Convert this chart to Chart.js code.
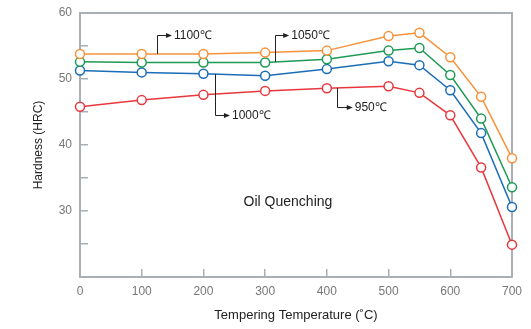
<!DOCTYPE html>
<html>
<head>
<meta charset="utf-8">
<script src="https://cdn.jsdelivr.net/npm/chart.js@4.4.0/dist/chart.umd.min.js"></script>
<style>
  body { margin: 0; background: #fff; }
  #wrap { width: 531px; height: 329px; }
</style>
</head>
<body>
<div id="wrap"><canvas id="hardnessChart" width="531" height="329"></canvas></div>
<script>
// tempering temperature (°C) and hardness (HRC) for each quenching temperature
const temperaturas = [0, 100, 200, 300, 400, 500, 550, 600, 650, 700];
const dureza1100 = [53.8, 53.8, 53.8, 54.0, 54.3, 56.5, 57.0, 53.3, 47.3, 38.0];
const dureza1050 = [52.6, 52.5, 52.5, 52.5, 53.0, 54.3, 54.7, 50.6, 44.0, 33.6];
const dureza1000 = [51.3, 51.0, 50.8, 50.5, 51.5, 52.7, 52.1, 48.3, 41.8, 30.6];
const dureza950 = [45.8, 46.8, 47.6, 48.2, 48.6, 48.9, 47.9, 44.5, 36.6, 24.9];
const rotulos = ['1100℃', '1050℃', '1000℃', '950℃'];
const ticksY = [30, 40, 50, 60];

const FONTE = '"Liberation Sans", Arial, sans-serif';
const CINZA = '#a9afb5';

// leader-line callouts, in data units (x = where it leaves the curve, y = label height, ponta = arrow tip)
const chamadas = [
  { serie: 0, x: 124, y: 56.7, ponta: 149 },
  { serie: 1, x: 316, y: 56.7, ponta: 339 },
  { serie: 2, x: 218, y: 44.6, ponta: 243 },
  { serie: 3, x: 416, y: 45.8, ponta: 442 }
];

function montarSerie(label, valores, cor) {
  return {
    label: label,
    data: temperaturas.map((t, i) => ({ x: t, y: valores[i] })),
    borderColor: cor,
    backgroundColor: '#fff',
    borderWidth: 1.5,
    pointRadius: 4.5,
    pointHoverRadius: 4.5,
    pointBorderWidth: 1.5,
    pointBackgroundColor: '#fff',
    tension: 0,
    clip: false
  };
}

function valorNaCurva(valores, x) {
  for (let i = 0; i < temperaturas.length - 1; i++) {
    if (x >= temperaturas[i] && x <= temperaturas[i + 1]) {
      const f = (x - temperaturas[i]) / (temperaturas[i + 1] - temperaturas[i]);
      return valores[i] + f * (valores[i + 1] - valores[i]);
    }
  }
  return valores[valores.length - 1];
}

const series = [dureza1100, dureza1050, dureza1000, dureza950];

const moldura = {
  id: 'moldura',
  beforeDatasetsDraw(chart) {
    const ctx = chart.ctx;
    const area = chart.chartArea;
    ctx.save();
    ctx.strokeStyle = CINZA;
    ctx.lineWidth = 2;
    ctx.beginPath();
    ctx.moveTo(area.left, area.top);
    ctx.lineTo(area.right, area.top);
    ctx.lineTo(area.right, area.bottom);
    ctx.stroke();
    ctx.restore();
  }
};

const anotacoes = {
  id: 'anotacoes',
  afterDatasetsDraw(chart) {
    const ctx = chart.ctx;
    const xs = chart.scales.x;
    const ys = chart.scales.y;
    ctx.save();
    ctx.strokeStyle = '#222';
    ctx.fillStyle = '#222';
    ctx.lineWidth = 1;
    ctx.font = '12px ' + FONTE;
    ctx.textBaseline = 'middle';
    ctx.textAlign = 'left';
    chamadas.forEach((c, i) => {
      const px = Math.round(xs.getPixelForValue(c.x)) + 0.5;
      const py0 = ys.getPixelForValue(valorNaCurva(series[c.serie], c.x));
      const py = Math.round(ys.getPixelForValue(c.y)) + 0.5;
      const tip = xs.getPixelForValue(c.ponta);
      ctx.beginPath();
      ctx.moveTo(px, py0);
      ctx.lineTo(px, py);
      ctx.lineTo(tip - 4, py);
      ctx.stroke();
      ctx.beginPath();
      ctx.moveTo(tip, py);
      ctx.lineTo(tip - 6, py - 2.5);
      ctx.lineTo(tip - 6, py + 2.5);
      ctx.closePath();
      ctx.fill();
      ctx.fillText(rotulos[i], tip + 2, py);
    });

    ctx.font = '14px ' + FONTE;
    ctx.textAlign = 'center';
    ctx.fillText('Oil Quenching', xs.getPixelForValue(337), ys.getPixelForValue(31.4));
    ctx.restore();
  }
};

new Chart(document.getElementById('hardnessChart'), {
  type: 'line',
  data: {
    datasets: [
      montarSerie(rotulos[0], dureza1100, '#f7923a'),
      montarSerie(rotulos[1], dureza1050, '#1e9a55'),
      montarSerie(rotulos[2], dureza1000, '#1a6db6'),
      montarSerie(rotulos[3], dureza950, '#e8383d')
    ]
  },
  options: {
    responsive: false,
    animation: false,
    layout: { autoPadding: false, padding: { top: 13, right: 19, left: 0, bottom: 0 } },
    plugins: {
      legend: { display: false },
      tooltip: { enabled: false }
    },
    scales: {
      x: {
        type: 'linear',
        min: 0,
        max: 700,
        afterFit: s => {
          s.height = 52;
          s.paddingLeft = 0;
          s.paddingRight = 0;
        },
        ticks: {
          stepSize: 100,
          color: '#777',
          padding: 15,
          maxRotation: 0,
          font: { family: FONTE, size: 12 }
        },
        grid: { drawOnChartArea: false, tickLength: -8, color: CINZA, lineWidth: 1.5 },
        border: { color: CINZA, width: 2 },
        title: {
          display: true,
          text: 'Tempering Temperature (˚C)',
          color: '#222',
          font: { family: FONTE, size: 13 },
          padding: { top: 0, bottom: 5.5 }
        }
      },
      y: {
        min: 20,
        max: 60,
        afterFit: s => {
          s.width = 80;
          s.paddingTop = 0;
          s.paddingBottom = 0;
        },
        ticks: {
          stepSize: 5,
          color: '#777',
          padding: 16,
          font: { family: FONTE, size: 12 },
          callback: v => ticksY.includes(v) ? String(v) : ''
        },
        grid: { drawOnChartArea: false, tickLength: -8, color: CINZA, lineWidth: 1.5 },
        border: { color: CINZA, width: 2 },
        title: {
          display: true,
          text: 'Hardness (HRC)',
          color: '#222',
          font: { family: FONTE, size: 12 },
          padding: { top: 31, bottom: 0 }
        }
      }
    }
  },
  plugins: [moldura, anotacoes]
});
</script>
</body>
</html>
